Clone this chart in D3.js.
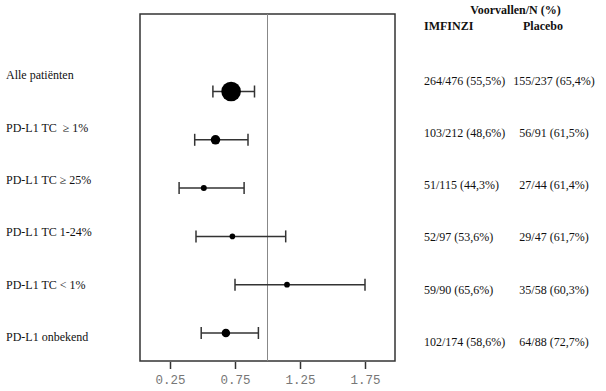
<!DOCTYPE html>
<html>
<head>
<meta charset="utf-8">
<script src="https://cdn.jsdelivr.net/npm/d3@7"></script>
<style>
  body { margin: 0; background: #fff; }
  svg { display: block; }
  .lab { font-family: "Liberation Serif", "Times New Roman", serif; font-size: 12px; fill: #111; }
  .hdr { font-family: "Liberation Serif", "Times New Roman", serif; font-size: 12px; font-weight: bold; fill: #111; }
  .tick text { font-family: "Liberation Mono", "Courier New", monospace; font-size: 12.5px; fill: #777; }
</style>
</head>
<body>
<svg id="chart" width="606" height="391"></svg>
<script>
// subgroup data
var groups = ["Alle patiënten", "PD-L1 TC\u00a0 ≥ 1%", "PD-L1 TC ≥ 25%", "PD-L1 TC 1-24%", "PD-L1 TC < 1%", "PD-L1 onbekend"];
var hr    = [0.72, 0.60, 0.51, 0.73, 1.15, 0.68];
var lower = [0.58, 0.44, 0.32, 0.45, 0.75, 0.49];
var upper = [0.90, 0.85, 0.82, 1.14, 1.75, 0.93];
var nTotal = [713, 303, 159, 144, 148, 262];
var imfinzi = ["264/476 (55,5%)", "103/212 (48,6%)", "51/115 (44,3%)", "52/97 (53,6%)", "59/90 (65,6%)", "102/174 (58,6%)"];
var placebo = ["155/237 (65,4%)", "56/91 (61,5%)", "27/44 (61,4%)", "29/47 (61,7%)", "35/58 (60,3%)", "64/88 (72,7%)"];
var tickValues = [0.25, 0.75, 1.25, 1.75];

var svg = d3.select("#chart");
var idx = d3.range(groups.length);

// scales
var x = d3.scaleLinear().domain([0, 2]).range([137.5, 397.5]);
var yMark = d3.scalePoint().domain(idx).range([91.5, 333]);
var yLeft = d3.scalePoint().domain(idx).range([75, 337]);
var yRight = d3.scalePoint().domain(idx).range([80.5, 341.5]);
var r = d3.scaleLinear().domain([144, 713]).range([2.8, 9.8]);

var box = { left: 140, right: 395, top: 14, bottom: 361 };

// plot frame
svg.append("rect")
    .attr("x", box.left).attr("y", box.top)
    .attr("width", box.right - box.left).attr("height", box.bottom - box.top)
    .attr("fill", "none").attr("stroke", "#333").attr("stroke-width", 1.5);

// reference line at HR = 1
svg.append("line")
    .attr("x1", x(1)).attr("x2", x(1))
    .attr("y1", box.top).attr("y2", box.bottom)
    .attr("stroke", "#888").attr("stroke-width", 1);

// axis
var axis = d3.axisBottom(x).tickValues(tickValues).tickSize(7).tickPadding(6)
    .tickFormat(d3.format(".2f"));
var gAxis = svg.append("g")
    .attr("class", "axis")
    .attr("transform", "translate(0," + (box.bottom + 1) + ")")
    .call(axis);
gAxis.select(".domain").remove();
gAxis.selectAll(".tick line").attr("stroke", "#333").attr("stroke-width", 1.5);

// confidence intervals
var rows = svg.append("g").selectAll("g").data(idx).enter().append("g");
rows.append("line")
    .attr("x1", function(i) { return x(lower[i]); })
    .attr("x2", function(i) { return x(upper[i]); })
    .attr("y1", function(i) { return yMark(i); })
    .attr("y2", function(i) { return yMark(i); })
    .attr("stroke", "#333").attr("stroke-width", 1.5);
[lower, upper].forEach(function(arr) {
    rows.append("line")
        .attr("x1", function(i) { return x(arr[i]); })
        .attr("x2", function(i) { return x(arr[i]); })
        .attr("y1", function(i) { return yMark(i) - 6; })
        .attr("y2", function(i) { return yMark(i) + 6; })
        .attr("stroke", "#333").attr("stroke-width", 1.5);
});
rows.append("circle")
    .attr("cx", function(i) { return x(hr[i]); })
    .attr("cy", function(i) { return yMark(i); })
    .attr("r", function(i) { return r(nTotal[i]); })
    .attr("fill", "#000");

// left labels
svg.append("g").selectAll("text").data(idx).enter().append("text")
    .attr("class", "lab")
    .attr("x", 6)
    .attr("y", function(i) { return yLeft(i); })
    .attr("dy", "0.35em")
    .text(function(i) { return groups[i]; });

// right columns
svg.append("g").selectAll("text").data(idx).enter().append("text")
    .attr("class", "lab")
    .attr("x", 424)
    .attr("y", function(i) { return yRight(i); })
    .attr("dy", "0.35em")
    .text(function(i) { return imfinzi[i]; });
svg.append("g").selectAll("text").data(idx).enter().append("text")
    .attr("class", "lab")
    .attr("x", 554)
    .attr("text-anchor", "middle")
    .attr("y", function(i) { return yRight(i); })
    .attr("dy", "0.35em")
    .text(function(i) { return placebo[i]; });

// headers
svg.append("text").attr("class", "hdr").attr("x", 515.5).attr("y", 10)
    .attr("dy", "0.35em").attr("text-anchor", "middle").text("Voorvallen/N (%)");
svg.append("text").attr("class", "hdr").attr("x", 424).attr("y", 26)
    .attr("dy", "0.35em").text("IMFINZI");
svg.append("text").attr("class", "hdr").attr("x", 523).attr("y", 26)
    .attr("dy", "0.35em").text("Placebo");
</script>
</body>
</html>
